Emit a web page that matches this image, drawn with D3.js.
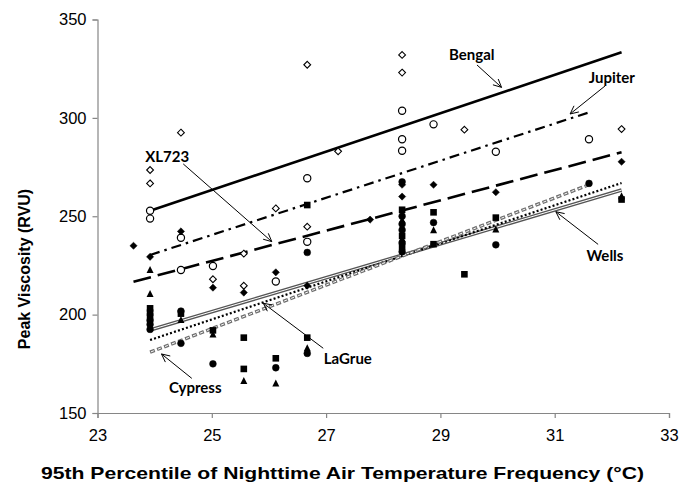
<!DOCTYPE html>
<html><head><meta charset="utf-8">
<script src="https://cdn.jsdelivr.net/npm/d3@7"></script>
<style>body{margin:0;background:#fff}svg{display:block}</style>
</head><body><svg id="c" width="685" height="482"></svg>
<script>
// ---- data ----
const xTicks = [23, 25, 27, 29, 31, 33];
const yTicks = [150, 200, 250, 300, 350];

const bengalX = [23.92, 23.92, 24.46, 25.02, 25.56, 25.56, 26.12, 26.67, 26.67, 27.21, 28.33, 28.33, 29.42, 32.17];
const bengalY = [273.5, 266.7, 292.5, 218.0, 231.0, 214.7, 254.0, 327.0, 244.7, 283.0, 332.0, 323.0, 294.0, 294.3];

const jupiterX = [23.92, 23.92, 24.46, 24.46, 25.02, 26.12, 26.67, 26.67, 28.33, 28.33, 28.33, 28.88, 29.97, 31.60];
const jupiterY = [252.8, 248.8, 239.1, 222.7, 224.7, 216.8, 269.3, 237.0, 303.6, 289.1, 283.3, 296.7, 282.8, 289.1];

const xl723X = [23.63, 23.92, 24.46, 25.02, 25.56, 26.12, 26.67, 27.77, 28.33, 28.33, 28.88, 29.97, 32.17];
const xl723Y = [235.0, 229.4, 242.3, 213.7, 211.2, 221.5, 214.7, 248.3, 266.0, 260.0, 266.0, 262.2, 277.7];

const wellsX = [23.92, 23.92, 23.92, 24.46, 25.02, 25.56, 25.56, 26.12, 26.67, 26.67, 28.33, 28.33, 28.33, 28.88, 28.88, 29.42, 29.97, 32.17];
const wellsY = [203.2, 201.0, 199.0, 200.5, 192.0, 188.3, 172.4, 177.8, 255.7, 188.3, 253.3, 240.0, 234.5, 252.0, 235.8, 220.5, 249.3, 258.5];

const lagrueX = [23.92, 23.92, 24.46, 25.02, 25.56, 26.12, 26.67, 28.33, 28.33, 28.88, 29.97, 32.17];
const lagrueY = [222.7, 210.5, 197.3, 190.0, 166.4, 165.1, 183.0, 248.0, 238.5, 243.0, 243.4, 260.3];

const cypressX = [23.92, 23.92, 23.92, 24.46, 24.46, 25.02, 26.12, 26.67, 26.67, 28.33, 28.33, 28.33, 28.33, 28.33, 28.33, 28.88, 29.97, 31.60];
const cypressY = [197.0, 195.0, 192.5, 201.8, 185.4, 175.0, 173.0, 231.6, 180.3, 267.5, 250.0, 246.0, 243.0, 236.5, 232.0, 246.8, 235.5, 266.7];

// linear trend lines (start / end)
const trendNames = ["Bengal", "Jupiter", "XL723", "Wells", "LaGrue", "Cypress"];
const trendX0 = [23.92, 23.92, 23.63, 23.92, 23.92, 23.92];
const trendX1 = [32.17, 31.60, 32.17, 32.17, 32.17, 31.60];
const trendY0 = [252.8, 230.3, 216.7, 192.2, 187.1, 180.9];
const trendY1 = [333.3, 302.8, 282.5, 263.3, 266.9, 266.0];

// annotation labels and arrows (data units)
const annoText = ["Bengal", "Jupiter", "XL723", "Wells", "LaGrue", "Cypress"];
const annoLabelX = [29.55, 32.00, 24.22, 31.88, 27.38, 24.71];
const annoLabelY = [331.9, 320.3, 280.1, 229.8, 177.4, 162.7];
const arrowX0 = [29.64, 31.88, 24.50, 31.76, 26.95, 24.65];
const arrowY0 = [326.9, 316.2, 276.6, 235.7, 182.9, 167.6];
const arrowX1 = [30.07, 31.27, 26.05, 31.02, 25.90, 24.12];
const arrowY1 = [315.5, 302.0, 237.1, 252.3, 205.8, 180.0];

const xTitle = "95th Percentile of Nighttime Air Temperature Frequency (°C)";
const yTitle = "Peak Viscosity (RVU)";

// ---- drawing ----
const svg = d3.select("#c");
const x = d3.scaleLinear().domain([23, 33]).range([97.5, 669]);
const y = d3.scaleLinear().domain([150, 350]).range([413, 19.5]);
const axisColor = "#868686";

const gx = svg.append("g").attr("transform", `translate(0,${y(150)})`)
  .call(d3.axisBottom(x).tickValues(xTicks).tickSize(5).tickPadding(11).tickFormat(d3.format("d")));
const gy = svg.append("g").attr("transform", `translate(${x(23)},0)`)
  .call(d3.axisLeft(y).tickValues(yTicks).tickSize(5).tickPadding(6).tickFormat(d3.format("d")));
[gx, gy].forEach(g => {
  g.select(".domain").attr("stroke", axisColor).attr("stroke-width", 1.2);
  g.selectAll(".tick line").attr("stroke", axisColor).attr("stroke-width", 1.2);
  g.selectAll(".tick text").attr("fill", "#000").attr("font-family", "Liberation Sans, Arial, sans-serif").attr("font-size", 16.5);
});

svg.append("text").attr("x", 342.5).attr("y", 479).attr("text-anchor", "middle")
  .attr("font-family", "Liberation Sans, Arial, sans-serif").attr("font-weight", "bold").attr("font-size", 16.5)
  .attr("textLength", 603).attr("lengthAdjust", "spacingAndGlyphs")
  .text(xTitle);
svg.append("text").attr("transform", "translate(30,269) rotate(-90)").attr("text-anchor", "middle")
  .attr("font-family", "Liberation Sans, Arial, sans-serif").attr("font-weight", "bold").attr("font-size", 16)
  .text(yTitle);

// trend lines
const lineStyles = {
  Bengal:  [{stroke: "#000", w: 2.6, dash: null}],
  Jupiter: [{stroke: "#000", w: 2.2, dash: "10,5,2.5,5"}],
  XL723:   [{stroke: "#000", w: 2.6, dash: "18,7"}],
  Wells:   [{stroke: "#555", w: 3.6, dash: null}, {stroke: "#fff", w: 1.0, dash: null}],
  LaGrue:  [{stroke: "#000", w: 2.2, dash: "2,2.2"}],
  Cypress: [{stroke: "#6f6f6f", w: 3.4, dash: "5,2.5"}, {stroke: "#fff", w: 1.0, dash: "3,4.5", off: -1}]
};
const gl = svg.append("g");
trendNames.forEach((n, i) => {
  lineStyles[n].forEach(st => {
    gl.append("line")
      .attr("x1", x(trendX0[i])).attr("y1", y(trendY0[i]))
      .attr("x2", x(trendX1[i])).attr("y2", y(trendY1[i]))
      .attr("stroke", st.stroke).attr("stroke-width", st.w)
      .attr("stroke-dasharray", st.dash).attr("stroke-dashoffset", st.off || 0);
  });
});

// markers
const gm = svg.append("g");
function pts(xs, ys) { return xs.map((v, i) => [v, ys[i]]); }
function diamond(g, data, filled, r) {
  g.selectAll(null).data(data).join("path")
    .attr("d", d => { const cx = x(d[0]), cy = y(d[1]); return `M${cx},${cy - r}L${cx + r},${cy}L${cx},${cy + r}L${cx - r},${cy}Z`; })
    .attr("fill", filled ? "#000" : "#fff").attr("stroke", "#000").attr("stroke-width", filled ? 0.5 : 1.1);
}
function circle(g, data, filled, r) {
  g.selectAll(null).data(data).join("circle")
    .attr("cx", d => x(d[0])).attr("cy", d => y(d[1])).attr("r", r)
    .attr("fill", filled ? "#000" : "#fff").attr("stroke", "#000").attr("stroke-width", filled ? 0.5 : 1.2);
}
function square(g, data, s) {
  g.selectAll(null).data(data).join("rect")
    .attr("x", d => x(d[0]) - s / 2).attr("y", d => y(d[1]) - s / 2).attr("width", s).attr("height", s)
    .attr("fill", "#000");
}
function triangle(g, data, s) {
  g.selectAll(null).data(data).join("path")
    .attr("d", d => { const cx = x(d[0]), cy = y(d[1]); return `M${cx},${cy - s * 0.55}L${cx + s / 2},${cy + s * 0.45}L${cx - s / 2},${cy + s * 0.45}Z`; })
    .attr("fill", "#000");
}
diamond(gm, pts(bengalX, bengalY), false, 3.4);
circle(gm, pts(jupiterX, jupiterY), false, 3.6);
diamond(gm, pts(xl723X, xl723Y), true, 3.6);
square(gm, pts(wellsX, wellsY), 6.6);
circle(gm, pts(cypressX, cypressY), true, 3.4);
triangle(gm, pts(lagrueX, lagrueY), 7);

// annotations
const ga = svg.append("g");
annoText.forEach((t, i) => {
  ga.append("text").attr("x", x(annoLabelX[i])).attr("y", y(annoLabelY[i])).attr("dy", "0.35em")
    .attr("text-anchor", "middle").attr("font-family", "Lato, 'Open Sans', sans-serif")
    .attr("font-weight", "bold").attr("font-size", 15).text(t);
  const x0 = x(arrowX0[i]), y0 = y(arrowY0[i]), x1 = x(arrowX1[i]), y1 = y(arrowY1[i]);
  ga.append("line").attr("x1", x0).attr("y1", y0).attr("x2", x1).attr("y2", y1)
    .attr("stroke", "#000").attr("stroke-width", 1);
  const a = Math.atan2(y1 - y0, x1 - x0), L = 9, h = 0.45;
  ga.append("path")
    .attr("d", `M${x1 - L * Math.cos(a - h)},${y1 - L * Math.sin(a - h)}L${x1},${y1}L${x1 - L * Math.cos(a + h)},${y1 - L * Math.sin(a + h)}`)
    .attr("fill", "none").attr("stroke", "#000").attr("stroke-width", 1);
});
</script></body></html>
